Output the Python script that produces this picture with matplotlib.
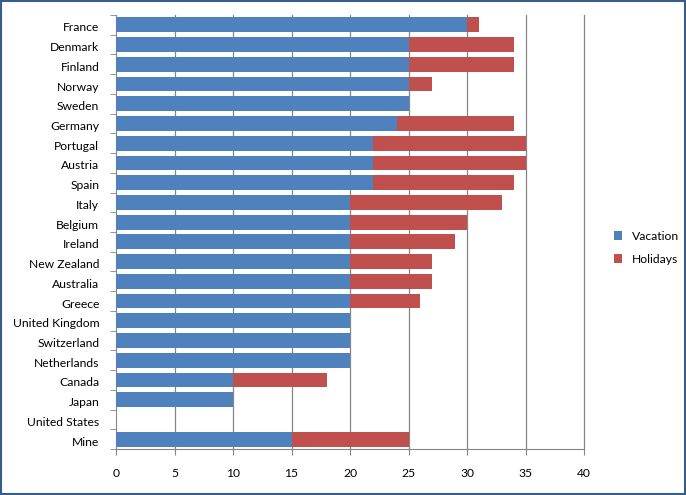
import matplotlib
matplotlib.use("Agg")
import matplotlib.pyplot as plt
from matplotlib.patches import Rectangle
import numpy as np

plt.rcParams["font.family"] = ["Lato", "DejaVu Sans"]

countries = ["France", "Denmark", "Finland", "Norway", "Sweden", "Germany",
             "Portugal", "Austria", "Spain", "Italy", "Belgium", "Ireland",
             "New Zealand", "Australia", "Greece", "United Kingdom",
             "Switzerland", "Netherlands", "Canada", "Japan", "United States", "Mine"]
vacation = [30, 25, 25, 25, 25, 24, 22, 22, 22, 20, 20, 20, 20, 20, 20, 20, 20, 20, 10, 10, 0, 15]
holidays = [1, 9, 9, 2, 0, 10, 13, 13, 12, 13, 10, 9, 7, 7, 6, 0, 0, 0, 8, 0, 0, 10]

fig = plt.figure(figsize=(6.86, 4.95), dpi=100)
ax = fig.add_axes([116 / 686, 1 - 449 / 495, 468 / 686, 434 / 495])

y = np.arange(len(countries))
ax.barh(y, vacation, height=0.75, color="#4F81BD", label="Vacation", zorder=3)
ax.barh(y, holidays, left=vacation, height=0.75, color="#C0504D", label="Holidays", zorder=3)

ax.set_ylim(len(countries) - 0.5, -0.5)
ax.set_xlim(0, 40)
ax.set_xticks(range(0, 41, 5))
for gx in range(5, 41, 5):
    ax.axvline(gx, color="#868686", linewidth=0.9, zorder=0, clip_on=False)

# category labels between boundary ticks
ax.set_yticks(y + 0.1)
ax.set_yticklabels(countries, fontsize=8.7)
ax.set_yticks(np.arange(-0.5, len(countries)), minor=True)
ax.tick_params(axis="y", which="major", length=0, pad=12)
ax.tick_params(axis="y", which="minor", length=4, color="#868686")
ax.tick_params(axis="x", length=4, color="#868686", labelsize=8.7, pad=10)

for s in ["top", "right"]:
    ax.spines[s].set_visible(False)
for s in ["left", "bottom"]:
    ax.spines[s].set_color("#868686")

ax.legend(loc="center left", bbox_to_anchor=(1.04, 0.464), frameon=False,
          fontsize=8.7, handlelength=0.7, handleheight=0.7, labelspacing=1.0)

fig.patches.append(Rectangle((0.002, 0.002), 0.996, 0.996, transform=fig.transFigure,
                             fill=False, edgecolor="#385D8A", linewidth=1.5))

fig.savefig("out.png", dpi=100)
